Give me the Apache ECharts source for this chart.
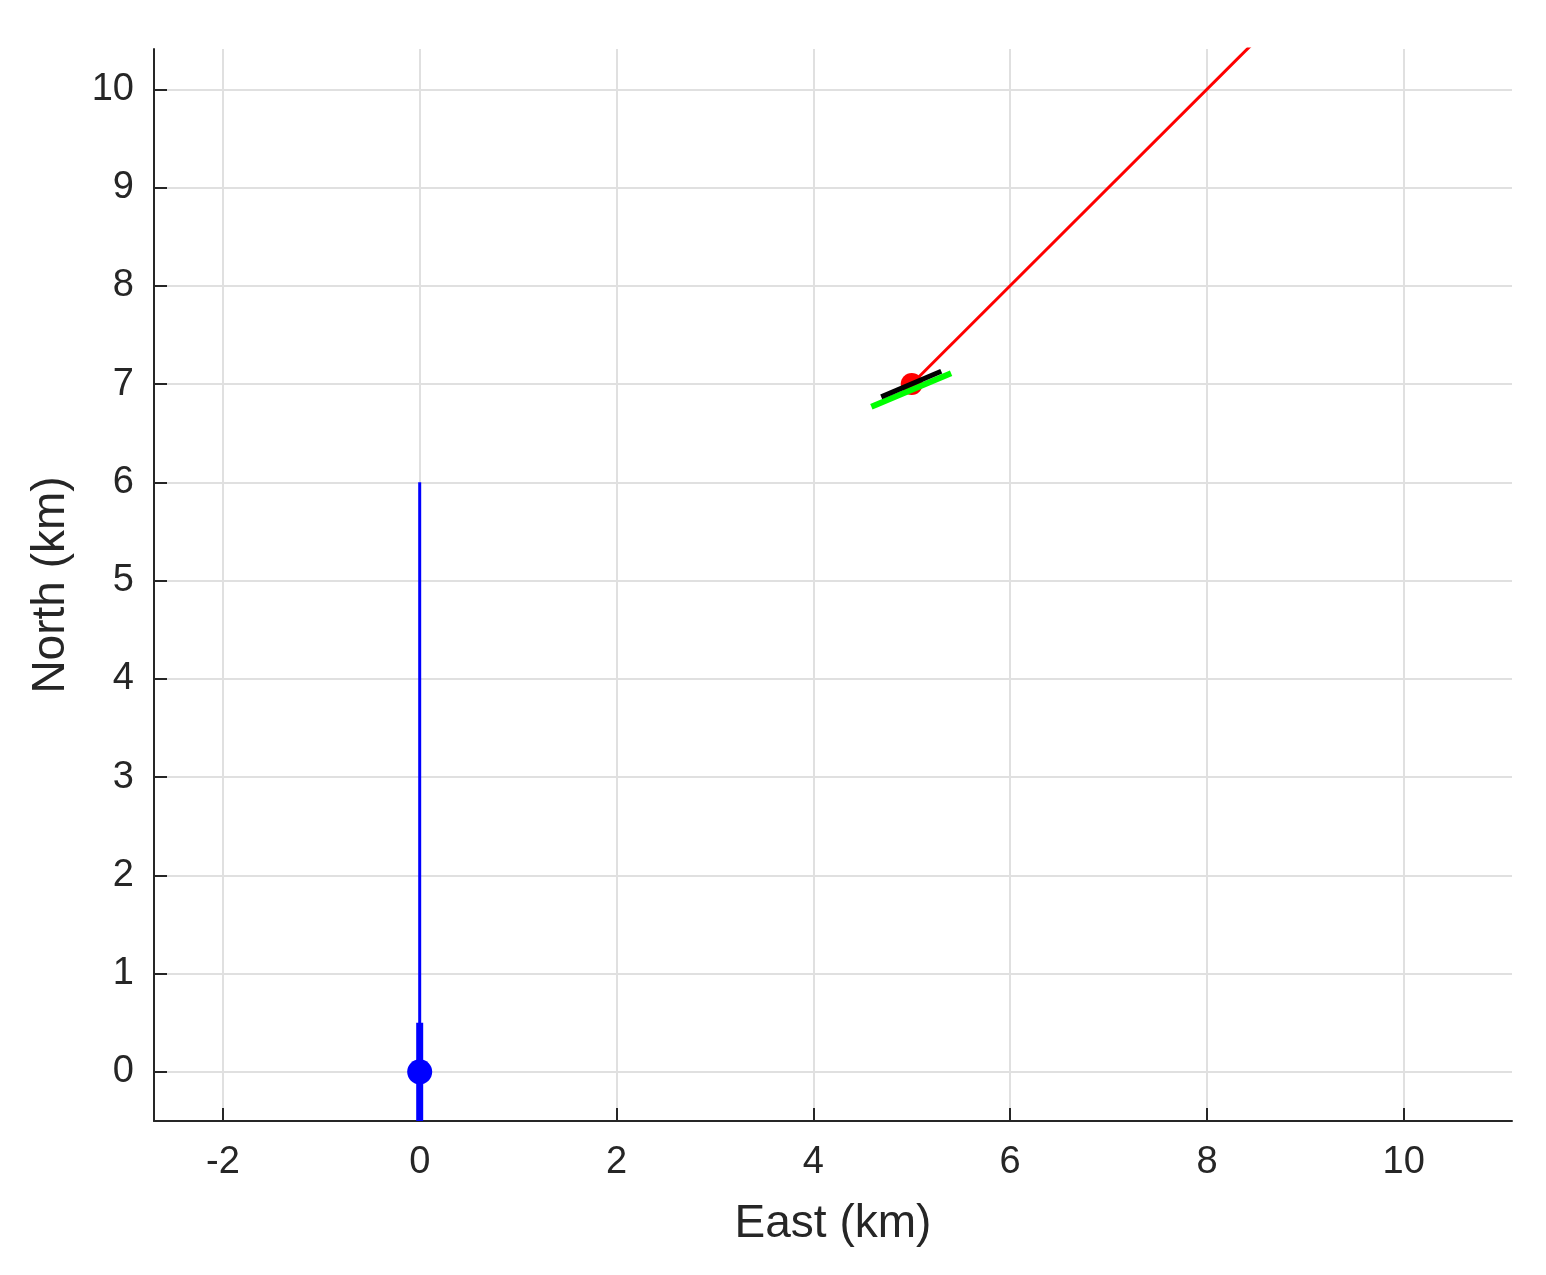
<!DOCTYPE html>
<html>
<head>
<meta charset="utf-8">
<script src="https://cdn.jsdelivr.net/npm/echarts@6/dist/echarts.min.js"></script>
<style>html,body{margin:0;padding:0;background:#fff}#c{width:1546px;height:1275px}</style>
</head>
<body>
<div id="c"></div>
<script>
const xTicks = [-2, 0, 2, 4, 6, 8, 10];
const yTicks = [0, 1, 2, 3, 4, 5, 6, 7, 8, 9, 10];
const xRange = [-2.7, 11.1];
const yRange = [-0.5, 10.41];
const blueThin = [[0, 0], [0, 6]];
const blueThick = [[0, 0.5], [0, -0.5]];
const blueDot = [[0, 0]];
const redLine = [[5, 7], [9, 11]];
const redDot = [[5, 7]];
const greenLine = [[4.59, 6.77], [5.40, 7.11]];
const blackLine = [[4.69, 6.87], [5.30, 7.13]];

const axisColor = '#262626';
const font = '"Liberation Sans", Arial, sans-serif';
const chart = echarts.init(document.getElementById('c'));
function lineSeries(data, color, width, z) {
  return {type: 'line', data: data, symbol: 'none', clip: true, z: z,
    lineStyle: {color: color, width: width, cap: 'butt'}, animation: false};
}
chart.setOption({
  animation: false,
  backgroundColor: '#fff',
  grid: {left: 154, right: 34, top: 49, bottom: 154},
  xAxis: {
    type: 'value', min: xRange[0], max: xRange[1],
    name: 'East (km)', nameLocation: 'middle', nameGap: 80,
    nameTextStyle: {fontFamily: font, fontSize: 46, color: axisColor},
    axisLine: {onZero: false, lineStyle: {color: axisColor, width: 2}},
    axisTick: {show: true, inside: true, length: 13, lineStyle: {color: axisColor, width: 2}, customValues: xTicks},
    axisLabel: {customValues: xTicks, fontFamily: font, fontSize: 38, color: axisColor, margin: 23},
    splitLine: {show: true, lineStyle: {color: '#e0e0e0', width: 2}}
  },
  yAxis: {
    type: 'value', min: yRange[0], max: yRange[1],
    name: 'North (km)', nameLocation: 'middle', nameGap: 80,
    nameTextStyle: {fontFamily: font, fontSize: 46, color: axisColor},
    axisLine: {show: true, onZero: false, lineStyle: {color: axisColor, width: 2}},
    axisTick: {show: true, inside: true, length: 13, lineStyle: {color: axisColor, width: 2}, customValues: yTicks},
    axisLabel: {customValues: yTicks, fontFamily: font, fontSize: 38, color: axisColor, margin: 20},
    splitLine: {show: true, lineStyle: {color: '#e0e0e0', width: 2}}
  },
  series: [
    lineSeries(blueThin, '#0000ff', 3, 2),
    lineSeries(blueThick, '#0000ff', 7, 3),
    {type: 'scatter', data: blueDot, symbol: 'circle', symbolSize: 25, z: 4, itemStyle: {color: '#0000ff', opacity: 1}},
    lineSeries(redLine, '#ff0000', 3, 2),
    {type: 'scatter', data: redDot, symbol: 'circle', symbolSize: 22, z: 3, itemStyle: {color: '#ff0000', opacity: 1}},
    lineSeries(greenLine, '#00ff00', 6, 4),
    lineSeries(blackLine, '#000000', 5, 5)
  ]
});
</script>
</body>
</html>
